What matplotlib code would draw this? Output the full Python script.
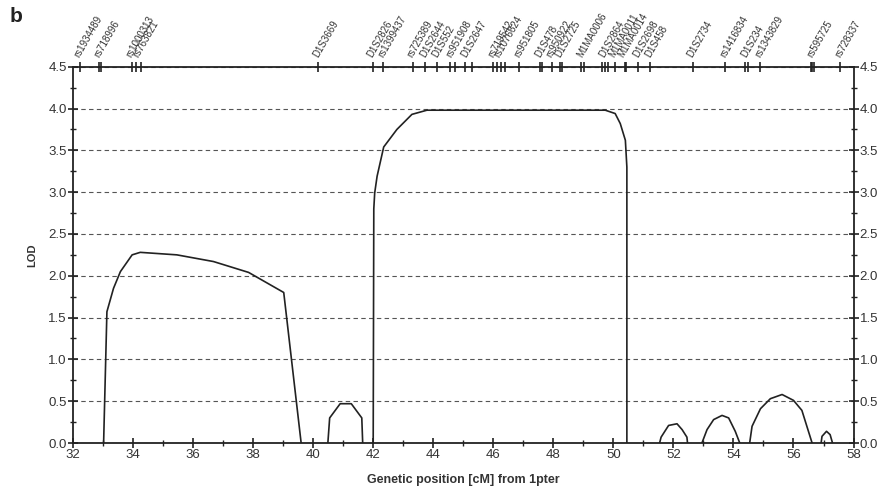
import matplotlib.pyplot as plt
from matplotlib.ticker import MultipleLocator

plt.rcParams["font.family"] = ["Liberation Sans", "DejaVu Sans"]

# LOD curve segments (genetic position in cM, LOD)
seg1_x = [33.02, 33.13, 33.35, 33.58, 33.97, 34.24, 35.46, 36.68, 37.85, 39.02, 39.6]
seg1_y = [0.0, 1.57, 1.85, 2.05, 2.25, 2.28, 2.25, 2.17, 2.04, 1.80, 0.0]

seg2_x = [40.49, 40.55, 40.9, 41.27, 41.62, 41.65]
seg2_y = [0.0, 0.30, 0.47, 0.47, 0.30, 0.0]

seg3_x = [42.0, 42.02, 42.05, 42.13, 42.35, 42.79, 43.29, 43.79, 49.73, 50.06, 50.23, 50.4, 50.45, 50.45]
seg3_y = [0.0, 2.8, 2.99, 3.19, 3.54, 3.75, 3.93, 3.98, 3.98, 3.94, 3.82, 3.62, 3.3, 0.0]

seg4_x = [51.54, 51.59, 51.84, 52.12, 52.29, 52.45, 52.47]
seg4_y = [0.0, 0.07, 0.21, 0.23, 0.16, 0.07, 0.0]

seg5_x = [52.95, 53.12, 53.34, 53.62, 53.84, 54.06, 54.21]
seg5_y = [0.0, 0.16, 0.28, 0.33, 0.30, 0.14, 0.0]

seg6_x = [54.54, 54.62, 54.9, 55.23, 55.62, 56.0, 56.28, 56.62]
seg6_y = [0.0, 0.20, 0.41, 0.53, 0.58, 0.51, 0.39, 0.0]

seg7_x = [56.92, 56.95, 57.1, 57.22, 57.3]
seg7_y = [0.0, 0.08, 0.14, 0.10, 0.0]

# marker positions on the map line
marker_pos = [32.23, 32.88, 32.93, 33.95, 34.10, 34.25, 40.16, 41.98, 42.33, 43.31,
              43.74, 44.14, 44.55, 44.74, 45.05, 45.29, 45.98, 46.11, 46.25, 46.38,
              46.86, 47.55, 47.62, 47.94, 48.21, 48.29, 48.93, 49.01, 49.62, 49.71,
              49.82, 50.04, 50.38, 50.43, 50.82, 51.23, 52.64, 53.73, 54.40, 54.47,
              54.9, 56.58, 56.63, 56.68, 57.56]

marker_names = ["rs1934489", "rs718996", "rs1000313", "rs763821", "D1S3669",
                "D1S2826", "rs1399437", "rs725389", "D1S2644", "D1S552",
                "rs951908", "D1S2647", "rs719542", "rs1076624", "rs951805",
                "D1S478", "rs950922", "D1S2725", "M1MA0006", "D1S2864",
                "M1MA0011", "M1MA0014", "D1S2698", "D1S458", "D1S2734",
                "rs1416834", "D1S234", "rs1343829", "rs595725", "rs728337"]
marker_label_pos = [32.23, 32.9, 33.95, 34.2, 40.16, 41.98, 42.33, 43.31, 43.74, 44.14,
                    44.6, 45.1, 46.0, 46.2, 46.86, 47.58, 47.94, 48.25, 48.97, 49.7,
                    50.04, 50.33, 50.82, 51.23, 52.64, 53.73, 54.44, 54.9, 56.63, 57.56]

fig = plt.figure(figsize=(8.89, 4.93), dpi=100)
ax = fig.add_axes([0.0821, 0.1014, 0.878, 0.7633])

for xs, ys in [(seg1_x, seg1_y), (seg2_x, seg2_y), (seg3_x, seg3_y), (seg4_x, seg4_y),
               (seg5_x, seg5_y), (seg6_x, seg6_y), (seg7_x, seg7_y)]:
    ax.plot(xs, ys, color="#222222", lw=1.2, zorder=3)

ax.set_xlim(32, 58)
ax.set_ylim(0, 4.5)
ax.xaxis.set_major_locator(MultipleLocator(2))
ax.xaxis.set_minor_locator(MultipleLocator(1))
ax.yaxis.set_major_locator(MultipleLocator(0.5))
ax.yaxis.set_minor_locator(MultipleLocator(0.25))
ax.yaxis.set_major_formatter(plt.FormatStrFormatter("%.1f"))
ax.grid(axis="y", which="major", linestyle=(0, (4, 3)), color="#555555", lw=0.8)

ax.tick_params(which="major", direction="inout", length=7, width=1.2, color="#222222",
               labelsize=9.5, labelcolor="#333333", pad=1)
ax.tick_params(which="minor", direction="inout", length=4, width=1.0, color="#222222")
ax.tick_params(axis="y", which="both", right=True, labelright=True)
ax.tick_params(axis="x", which="both", top=False)
for side in ["left", "right", "bottom", "top"]:
    ax.spines[side].set_color("#222222")
    ax.spines[side].set_linewidth(1.3)

ax.plot(marker_pos, [4.5] * len(marker_pos), linestyle="none", marker="|", ms=7,
        mew=1.2, color="#222222", clip_on=False, zorder=4)
for name, xp in zip(marker_names, marker_label_pos):
    ax.annotate(name, xy=(xp, 4.5), xytext=(-2, 7), textcoords="offset points",
                rotation=60, rotation_mode="anchor", ha="left", va="center",
                fontsize=7, color="#333333", annotation_clip=False)

ax.set_xlabel("Genetic position [cM] from 1pter", fontsize=9, fontweight="bold",
              color="#333333", labelpad=9)
ax.set_ylabel("LOD", fontsize=8, fontweight="bold", color="#333333", labelpad=8)
fig.text(0.011, 0.955, "b", fontsize=15, fontweight="bold", color="#222222")

fig.savefig("out.png", dpi=100)
